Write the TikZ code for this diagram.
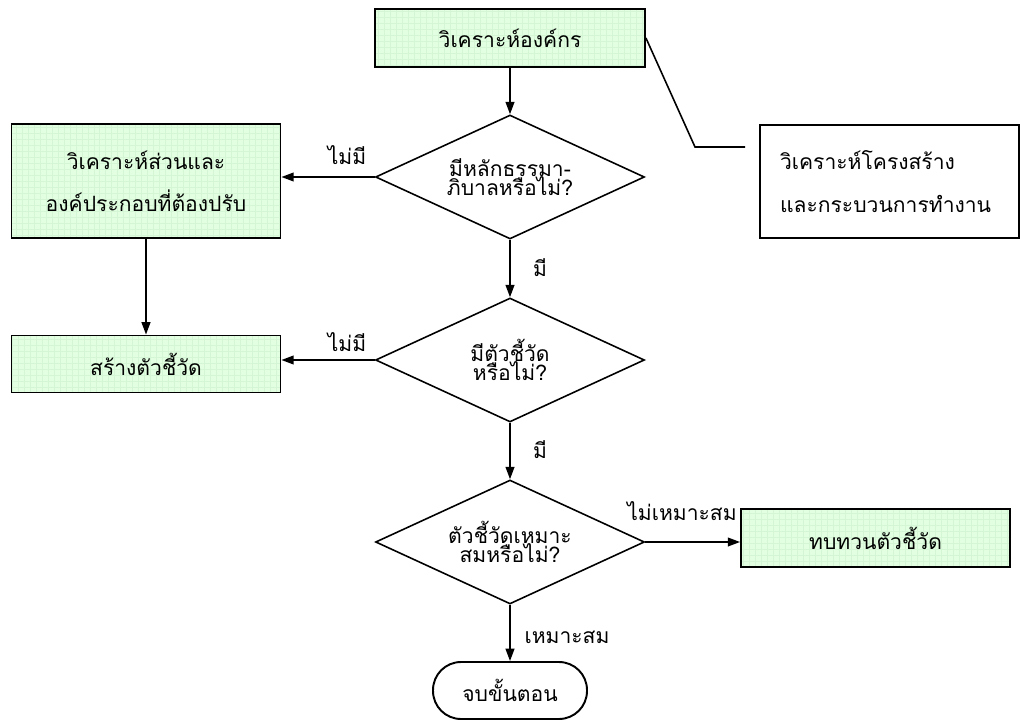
\documentclass[tikz,border=0pt]{standalone}
\usepackage{fontspec}
\newfontfamily\thaifont[Script=Thai]{Loma}
\usetikzlibrary{shapes.geometric,arrows.meta}

\definecolor{boxgreen}{RGB}{226,255,226}
\definecolor{gridgreen}{RGB}{212,246,212}

\tikzset{
  every node/.style={font=\thaifont\fontsize{12pt}{14pt}\selectfont},
  greenbox/.style={draw,line width=1.1pt,fill=boxgreen,inner sep=0pt,align=center,
    path picture={\draw[gridgreen,line width=0.25pt,step=0.12cm]
      (path picture bounding box.south west) grid (path picture bounding box.north east);}},
  askbox/.style={draw,diamond,aspect=2.17,line width=0.9pt,inner sep=0pt,align=center,
    minimum width=5.38cm,minimum height=2.48cm},
  notebox/.style={draw,line width=1.1pt,inner sep=0pt,inner xsep=0.4cm,align=left,
    text width=4.38cm,minimum height=2.26cm},
  endbox/.style={draw,line width=1.1pt,rounded corners=0.56cm,
    minimum width=3.08cm,minimum height=1.14cm},
  arr/.style={line width=0.9pt,-{Triangle[length=7pt,width=5pt]}}
}

\begin{document}
\begin{tikzpicture}[x=0.02cm,y=-0.02cm]

\useasboundingbox (0,0) rectangle (1020,722);

\coordinate (O) at (510,38);
\coordinate (D1) at (510,177);
\coordinate (D2) at (510,360);
\coordinate (D3) at (510,542);
\coordinate (P) at (146,181);
\coordinate (M) at (146,364);
\coordinate (R) at (875.5,538);
\coordinate (N) at (889.5,181.5);
\coordinate (E) at (510,690.5);

\node[greenbox,minimum width=5.4cm,minimum height=1.16cm] (org) at (O){วิเคราะห์องค์กร};
\node[askbox] (ask1) at (D1){มีหลักธรรมา-\\[-3pt]ภิบาลหรือไม่?};
\node[askbox] (ask2) at (D2){มีตัวชี้วัด\\[-3pt]หรือไม่?};
\node[askbox] (ask3) at (D3){ตัวชี้วัดเหมาะ\\[-3pt]สมหรือไม่?};
\node[greenbox,minimum width=5.38cm,minimum height=2.28cm] (part) at (P){วิเคราะห์ส่วนและ\\[10pt]องค์ประกอบที่ต้องปรับ};
\node[greenbox,minimum width=5.38cm,minimum height=1.14cm] (make) at (M){สร้างตัวชี้วัด};
\node[greenbox,minimum width=5.38cm,minimum height=1.16cm] (review) at (R){ทบทวนตัวชี้วัด};
\node[notebox] (note) at (N){วิเคราะห์โครงสร้าง\\[10pt]และกระบวนการทำงาน};
\node[endbox] (stop) at (E){จบขั้นตอน};

\coordinate (k1) at (695,147);
\coordinate (k2) at (745,147);
\draw[line width=0.9pt] (org.east)--(k1)--(k2);

\draw[arr] (org)--(ask1);
\draw[arr] (ask1)--(ask2);
\draw[arr] (ask2)--(ask3);
\draw[arr] (ask3)--(stop);
\draw[arr] (part)--(make);
\draw[arr] (ask1.west)--(ask1.west-|part.east);
\draw[arr] (ask2.west)--(ask2.west-|make.east);
\draw[arr] (ask3.east)--(ask3.east-|review.west);

\node (no1) at (347,155){ไม่มี};
\node (no2) at (347,342){ไม่มี};
\node (yes1) at (540,268){มี};
\node (yes2) at (540,450){มี};
\node (bad) at (682,511){ไม่เหมาะสม};
\node (good) at (567,637){เหมาะสม};

\end{tikzpicture}
\end{document}
